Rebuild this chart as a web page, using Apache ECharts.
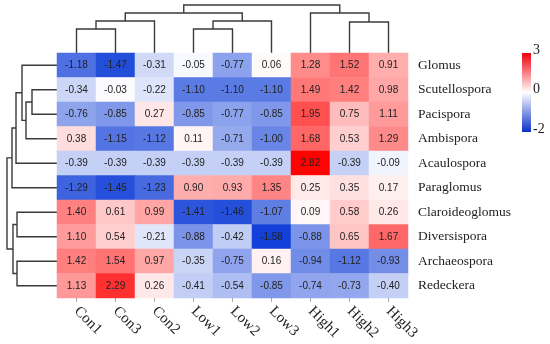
<!DOCTYPE html>
<html><head><meta charset="utf-8">
<script src="https://cdn.jsdelivr.net/npm/echarts@6/dist/echarts.min.js"></script>
<style>html,body{margin:0;padding:0;background:#fff}#c{width:550px;height:344px}</style>
</head><body><div id="c"></div>
<script>
// ---- data ----
const cols = ['Con1','Con3','Con2','Low1','Low2','Low3','High1','High2','High3'];
const rows = ['Glomus','Scutellospora','Pacispora','Ambispora','Acaulospora','Paraglomus','Claroideoglomus','Diversispora','Archaeospora','Redeckera'];
const glomus          = [-1.18,-1.47,-0.31,-0.05,-0.77, 0.06, 1.28, 1.52, 0.91];
const scutellospora   = [-0.34,-0.03,-0.22,-1.10,-1.10,-1.10, 1.49, 1.42, 0.98];
const pacispora       = [-0.76,-0.85, 0.27,-0.85,-0.77,-0.85, 1.95, 0.75, 1.11];
const ambispora       = [ 0.38,-1.15,-1.12, 0.11,-0.71,-1.00, 1.68, 0.53, 1.29];
const acaulospora     = [-0.39,-0.39,-0.39,-0.39,-0.39,-0.39, 2.82,-0.39,-0.09];
const paraglomus      = [-1.29,-1.45,-1.23, 0.90, 0.93, 1.35, 0.25, 0.35, 0.17];
const claroideoglomus = [ 1.40, 0.61, 0.99,-1.41,-1.46,-1.07, 0.09, 0.58, 0.26];
const diversispora    = [ 1.10, 0.54,-0.21,-0.88,-0.42,-1.58,-0.88, 0.65, 1.67];
const archaeospora    = [ 1.42, 1.54, 0.97,-0.35,-0.75, 0.16,-0.94,-1.12,-0.93];
const redeckera       = [ 1.13, 2.29, 0.26,-0.41,-0.54,-0.85,-0.74,-0.73,-0.40];
const rowValues = [glomus,scutellospora,pacispora,ambispora,acaulospora,paraglomus,claroideoglomus,diversispora,archaeospora,redeckera];

// dendrogram merges: [childA, childB, height]; 'mN' refers to merge N
const colMerges = [
  ['Con1','Con3',24], ['m0','Con2',32], ['Low1','Low2',24], ['m2','Low3',32],
  ['m1','m3',40], ['High2','High3',31], ['High1','m5',40], ['m4','m6',48]
];
const rowMerges = [
  ['Scutellospora','Pacispora',25], ['m0','Ambispora',31], ['Glomus','m1',35],
  ['m2','Acaulospora',41], ['m3','Paraglomus',45],
  ['Claroideoglomus','Diversispora',40], ['Archaeospora','Redeckera',40],
  ['m5','m6',44], ['m4','m7',50]
];
const colorbarLabels = ['3','0','-2'];

// ---- build ----
const data = [];
rowValues.forEach((r, i) => r.forEach((v, j) => data.push([j, i, v])));

const GRID = {left:57, top:53, width:351, height:245};
const VMIN = -1.6, VMAX = 2.8, STEP = 0.4;
const BLUE = [15,62,215], RED = [255,0,0];
function mix(c, t){ return 'rgb(' + c.map(x => Math.round(255 + (x-255)*t)).join(',') + ')'; }
const stops = [];
for (let v = VMIN; v <= VMAX + 1e-9; v += STEP) {
  stops.push(v < 0 ? mix(BLUE, Math.min(1, -v/1.6)) : mix(RED, Math.min(1, v/2.82)));
}

const chart = echarts.init(document.getElementById('c'), null, {renderer:'canvas'});
const serif = '"Liberation Serif","Times New Roman",serif';
chart.setOption({
  animation:false,
  grid:GRID,
  xAxis:{type:'category', data:cols, position:'bottom',
    axisLine:{show:false},
    axisTick:{show:true, alignWithLabel:true, length:4, lineStyle:{color:'#aaa'}},
    axisLabel:{rotate:-45, margin:11, fontFamily:serif, fontSize:15, color:'#222', interval:0},
    splitLine:{show:false}},
  yAxis:{type:'category', data:rows, position:'right', inverse:true,
    axisLine:{show:false}, axisTick:{show:false},
    axisLabel:{margin:10, fontFamily:serif, fontSize:13.5, color:'#222', interval:0},
    splitLine:{show:false}},
  visualMap:{show:false, type:'continuous', min:VMIN, max:VMAX, dimension:2, inRange:{color:stops}},
  series:[{type:'heatmap', data:data,
    label:{show:true, formatter:p => p.value[2].toFixed(2), fontSize:10,
      fontFamily:'"Liberation Sans",Arial,sans-serif', color:'#222'},
    itemStyle:{borderWidth:0}}]
});

// dendrograms via axis conversion
function pos(merges, leafPos){
  const P = [];
  merges.forEach((m, k) => {
    const get = n => /^m\d+$/.test(n) ? P[+n.slice(1)] : {p:leafPos(n), h:0};
    const a = get(m[0]), b = get(m[1]);
    P[k] = {p:(a.p+b.p)/2, h:m[2], a:a, b:b};
  });
  return P;
}
const lineStyle = {stroke:'#3a3a3a', lineWidth:1.4, fill:null};
const graphics = [];
const colP = pos(colMerges, n => chart.convertToPixel({gridIndex:0}, [cols.indexOf(n), 0])[0]);
colP.forEach(m => {
  const y0 = GRID.top;
  graphics.push({type:'polyline', silent:true, shape:{points:[
    [m.a.p, y0 - m.a.h], [m.a.p, y0 - m.h], [m.b.p, y0 - m.h], [m.b.p, y0 - m.b.h]]}, style:lineStyle});
});
const rowP = pos(rowMerges, n => chart.convertToPixel({gridIndex:0}, [0, rows.indexOf(n)])[1]);
rowP.forEach(m => {
  const x0 = GRID.left;
  graphics.push({type:'polyline', silent:true, shape:{points:[
    [x0 - m.a.h, m.a.p], [x0 - m.h, m.a.p], [x0 - m.h, m.b.p], [x0 - m.b.h, m.b.p]]}, style:lineStyle});
});
// colour bar
const CB = {x:522, y:53, w:9, h:79};
graphics.push({type:'rect', silent:true, shape:{x:CB.x, y:CB.y, width:CB.w, height:CB.h},
  style:{fill:new echarts.graphic.LinearGradient(0,0,0,1,[
    {offset:0, color:'rgb(240,0,10)'},{offset:0.5, color:'#ffffff'},{offset:1, color:'rgb(10,50,200)'}])}});
const cbY = [CB.y - 3, CB.y + CB.h/2 - 3, CB.y + CB.h - 3];
colorbarLabels.forEach((t, i) => {
  graphics.push({type:'text', silent:true, x:CB.x + CB.w + 2, y:cbY[i],
    style:{text:t, font:'14px ' + serif, fill:'#222', textVerticalAlign:'middle', verticalAlign:'middle'}});
});
chart.setOption({graphic:graphics});
</script></body></html>
